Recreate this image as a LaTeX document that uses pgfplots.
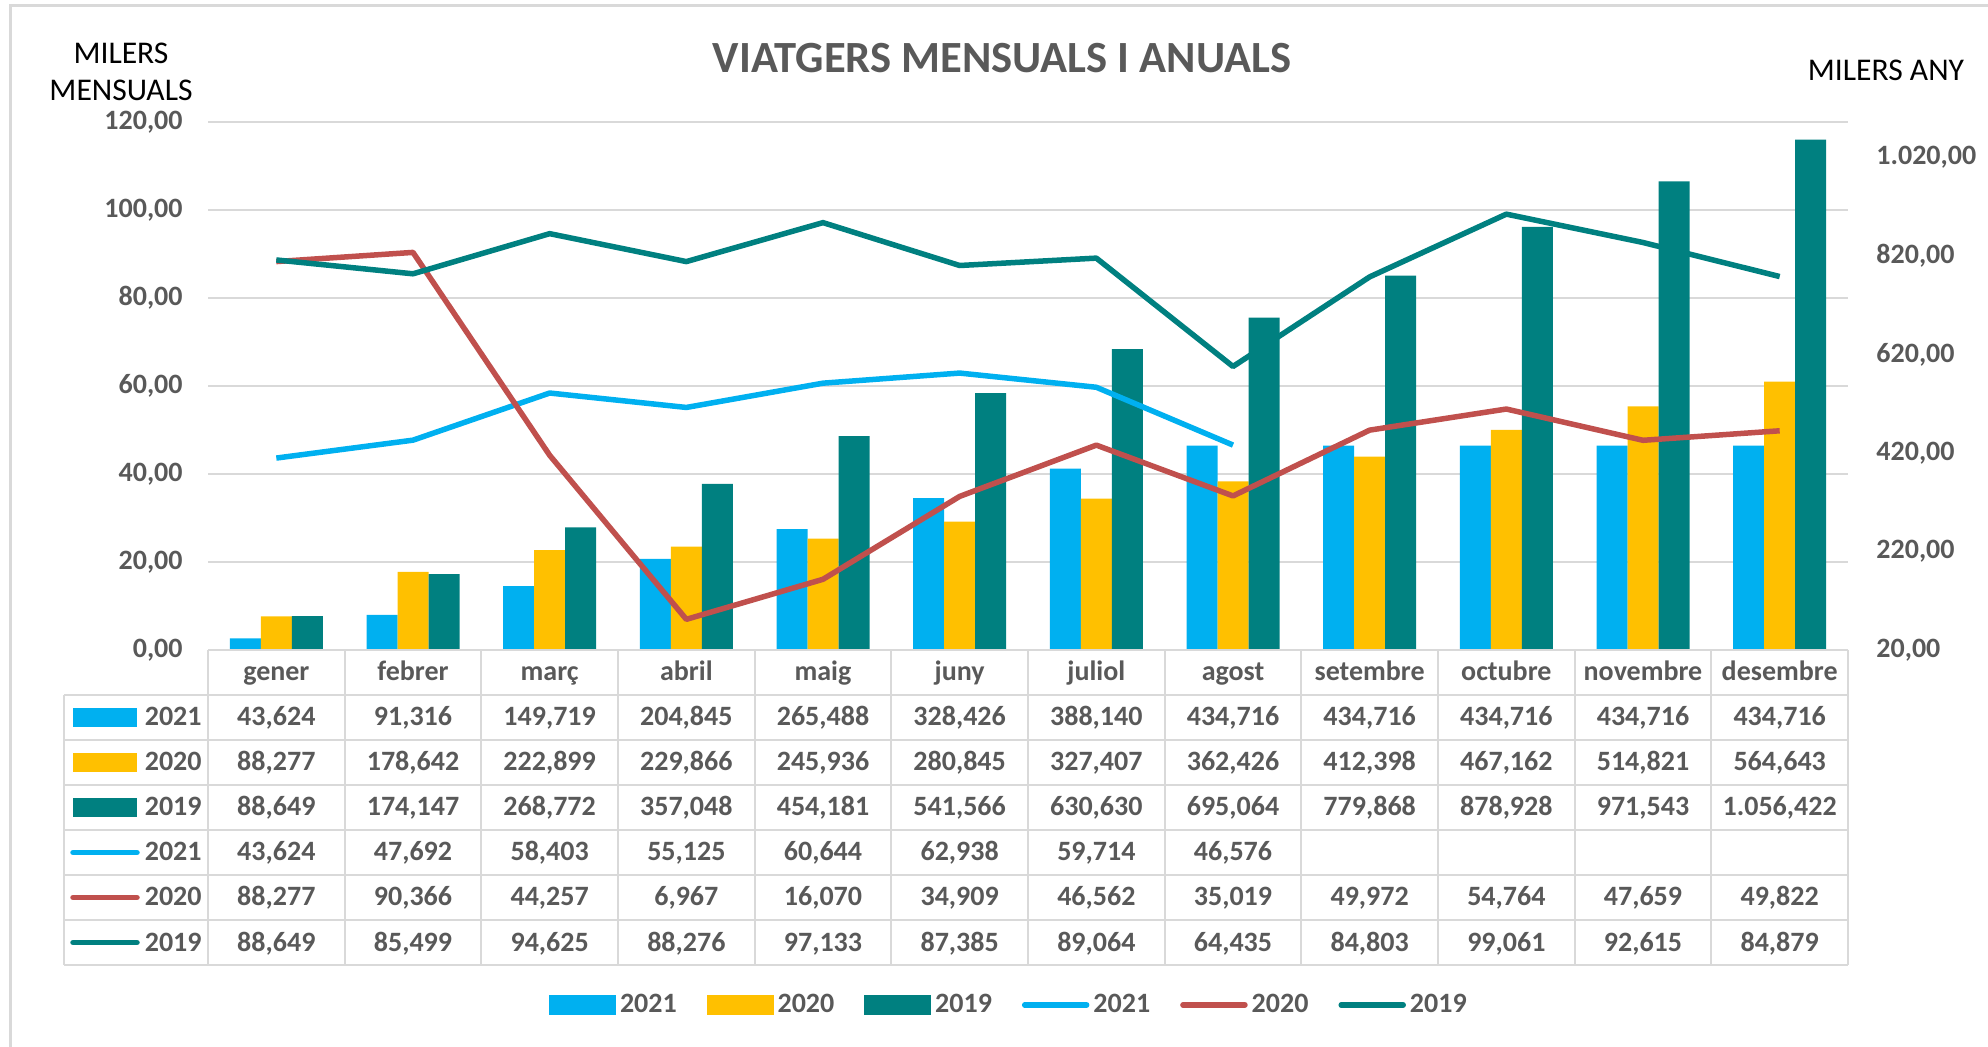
\documentclass[border=0pt]{standalone}
\usepackage{fontspec}
\setmainfont{Carlito}
\usepackage{pgfplots}
\pgfplotsset{compat=1.18}
\definecolor{cA}{HTML}{00B0F0}
\definecolor{cB}{HTML}{FFC000}
\definecolor{cC}{HTML}{008080}
\definecolor{cR}{HTML}{C0504D}
\definecolor{gridc}{HTML}{D9D9D9}
\definecolor{txt}{HTML}{595959}
\newcommand\tf{\fontsize{14}{14}\selectfont\bfseries}
\newcommand\tabrow[2]{%
  \foreach \v [count=\i from 0] in {#2} {%
    \node[font=\tf,text=txt,anchor=base,inner sep=0pt] at ({208+(\i+0.5)*136.6667},{#1+8.5})
      {\pgfkeys{/pgf/number format/.cd,use comma,1000 sep={.},fixed,fixed zerofill,precision=3,assume math mode=true}\pgfmathprintnumber{\v}};
  }}
\begin{document}
\begin{tikzpicture}
\begin{scope}[x=0.5pt,y=-0.5pt]
\path[use as bounding box] (0,0) rectangle (1988,1047);
\draw[gridc, line width=1.5pt] (10,1047) -- (10,6) -- (1988,6);
\node[font=\fontsize{22.3}{22.3}\selectfont\bfseries, text=txt] at (1002,58) {VIATGERS MENSUALS I ANUALS};
\node[font=\fontsize{15.8}{18.5}\selectfont, align=center, text=black] at (121,71.5) {MILERS\\MENSUALS};
\node[font=\fontsize{15.8}{18.5}\selectfont, text=black] at (1886,70) {MILERS ANY};
\end{scope}

% grid + left labels
\begin{axis}[
  at={(104pt,-325pt)}, anchor=south west, scale only axis, width=820pt, height=264pt,
  xmin=-0.5, xmax=11.5, ymin=0, ymax=120, ytick={0,20,...,120}, xtick=\empty,
  ymajorgrids, grid style={gridc, line width=1pt},
  axis line style={draw=none}, major tick length=0pt,
  yticklabel style={font=\tf, text=txt, anchor=east, inner sep=0pt, xshift=-12.5pt},
  /pgf/number format/.cd, use comma, fixed, fixed zerofill, precision=2, assume math mode=true,
]
\end{axis}

% cumulative bars (right axis)
\begin{axis}[
  at={(104pt,-325pt)}, anchor=south west, scale only axis, width=820pt, height=264pt,
  xmin=-0.5, xmax=11.5, ymin=20, ymax=1092, ytick={20,220,...,1020}, xtick=\empty,
  axis line style={draw=none}, major tick length=0pt, yticklabel pos=right,
  yticklabel style={font=\tf, text=txt, anchor=west, inner sep=0pt, xshift=14pt},
  ybar=0pt, bar width=15.5pt,
  /pgf/number format/.cd, use comma, 1000 sep={.}, fixed, fixed zerofill, precision=2, assume math mode=true,
]
\addplot[fill=cA, draw=none] coordinates {(0,43.624) (1,91.316) (2,149.719) (3,204.845) (4,265.488) (5,328.426) (6,388.140) (7,434.716) (8,434.716) (9,434.716) (10,434.716) (11,434.716)};
\addplot[fill=cB, draw=none] coordinates {(0,88.277) (1,178.642) (2,222.899) (3,229.866) (4,245.936) (5,280.845) (6,327.407) (7,362.426) (8,412.398) (9,467.162) (10,514.821) (11,564.643)};
\addplot[fill=cC, draw=none] coordinates {(0,88.649) (1,174.147) (2,268.772) (3,357.048) (4,454.181) (5,541.566) (6,630.630) (7,695.064) (8,779.868) (9,878.928) (10,971.543) (11,1056.422)};
\end{axis}

% monthly lines (left axis) + legend
\begin{axis}[
  at={(104pt,-325pt)}, anchor=south west, scale only axis, width=820pt, height=264pt,
  xmin=-0.5, xmax=11.5, ymin=0, ymax=120, hide axis,
  legend columns=6,
  legend style={at={(0.4878,-0.6723)}, anchor=center, draw=none, fill=none,
    font=\tf, text=txt, nodes={inner sep=0pt},
    /tikz/every odd column/.append style={column sep=2pt},
    /tikz/every even column/.append style={column sep=15pt}},
]
\addlegendimage{legend image code/.code={\fill[cA] (0pt,-4.75pt) rectangle (33pt,4.75pt);}}
\addlegendentry{2021}
\addlegendimage{legend image code/.code={\fill[cB] (0pt,-4.75pt) rectangle (33pt,4.75pt);}}
\addlegendentry{2020}
\addlegendimage{legend image code/.code={\fill[cC] (0pt,-4.75pt) rectangle (33pt,4.75pt);}}
\addlegendentry{2019}
\addplot[cA, line width=2.75pt, line join=round,
  legend image code/.code={\draw[cA,line width=2.75pt,line cap=round] (1pt,0pt) -- (32pt,0pt);}]
  coordinates {(0,43.624) (1,47.692) (2,58.403) (3,55.125) (4,60.644) (5,62.938) (6,59.714) (7,46.576)};
\addlegendentry{2021}
\addplot[cR, line width=2.75pt, line join=round,
  legend image code/.code={\draw[cR,line width=2.75pt,line cap=round] (1pt,0pt) -- (32pt,0pt);}]
  coordinates {(0,88.277) (1,90.366) (2,44.257) (3,6.967) (4,16.070) (5,34.909) (6,46.562) (7,35.019) (8,49.972) (9,54.764) (10,47.659) (11,49.822)};
\addlegendentry{2020}
\addplot[cC, line width=2.75pt, line join=round,
  legend image code/.code={\draw[cC,line width=2.75pt,line cap=round] (1pt,0pt) -- (32pt,0pt);}]
  coordinates {(0,88.649) (1,85.499) (2,94.625) (3,88.276) (4,97.133) (5,87.385) (6,89.064) (7,64.435) (8,84.803) (9,99.061) (10,92.615) (11,84.879)};
\addlegendentry{2019}
\end{axis}

% data table
\begin{scope}[x=0.5pt,y=-0.5pt]
\foreach \k in {0,...,12} \draw[gridc,line width=1pt] ({208+\k*136.6667},650) -- ({208+\k*136.6667},965);
\draw[gridc,line width=1pt] (64,695) -- (64,965);
\foreach \j in {0,...,6} \draw[gridc,line width=1pt] (64,{695+45*\j}) -- (1848,{695+45*\j});
\draw[gridc,line width=1pt] (208,650) -- (1848,650);
\foreach \m [count=\i from 0] in {gener,febrer,març,abril,maig,juny,juliol,agost,setembre,octubre,novembre,desembre}
  \node[font=\tf,text=txt,anchor=base,inner sep=0pt] at ({208+(\i+0.5)*136.6667},681) {\m};
% row keys
\fill[cA] (73,708) rectangle (137,727);
\fill[cB] (73,753) rectangle (137,772);
\fill[cC] (73,798) rectangle (137,817);
\draw[cA,line width=2.75pt,line cap=round] (73,852.5) -- (137,852.5);
\draw[cR,line width=2.75pt,line cap=round] (73,897.5) -- (137,897.5);
\draw[cC,line width=2.75pt,line cap=round] (73,942.5) -- (137,942.5);
\foreach \yy/\lab in {717.5/2021,762.5/2020,807.5/2019,852.5/2021,897.5/2020,942.5/2019}
  \node[font=\tf,text=txt,anchor=base east,inner sep=0pt] at (202,{\yy+8.5}) {\lab};
\tabrow{717.5}{43.624,91.316,149.719,204.845,265.488,328.426,388.140,434.716,434.716,434.716,434.716,434.716}
\tabrow{762.5}{88.277,178.642,222.899,229.866,245.936,280.845,327.407,362.426,412.398,467.162,514.821,564.643}
\tabrow{807.5}{88.649,174.147,268.772,357.048,454.181,541.566,630.630,695.064,779.868,878.928,971.543,1056.422}
\tabrow{852.5}{43.624,47.692,58.403,55.125,60.644,62.938,59.714,46.576}
\tabrow{897.5}{88.277,90.366,44.257,6.967,16.070,34.909,46.562,35.019,49.972,54.764,47.659,49.822}
\tabrow{942.5}{88.649,85.499,94.625,88.276,97.133,87.385,89.064,64.435,84.803,99.061,92.615,84.879}
\end{scope}
\end{tikzpicture}
\end{document}
